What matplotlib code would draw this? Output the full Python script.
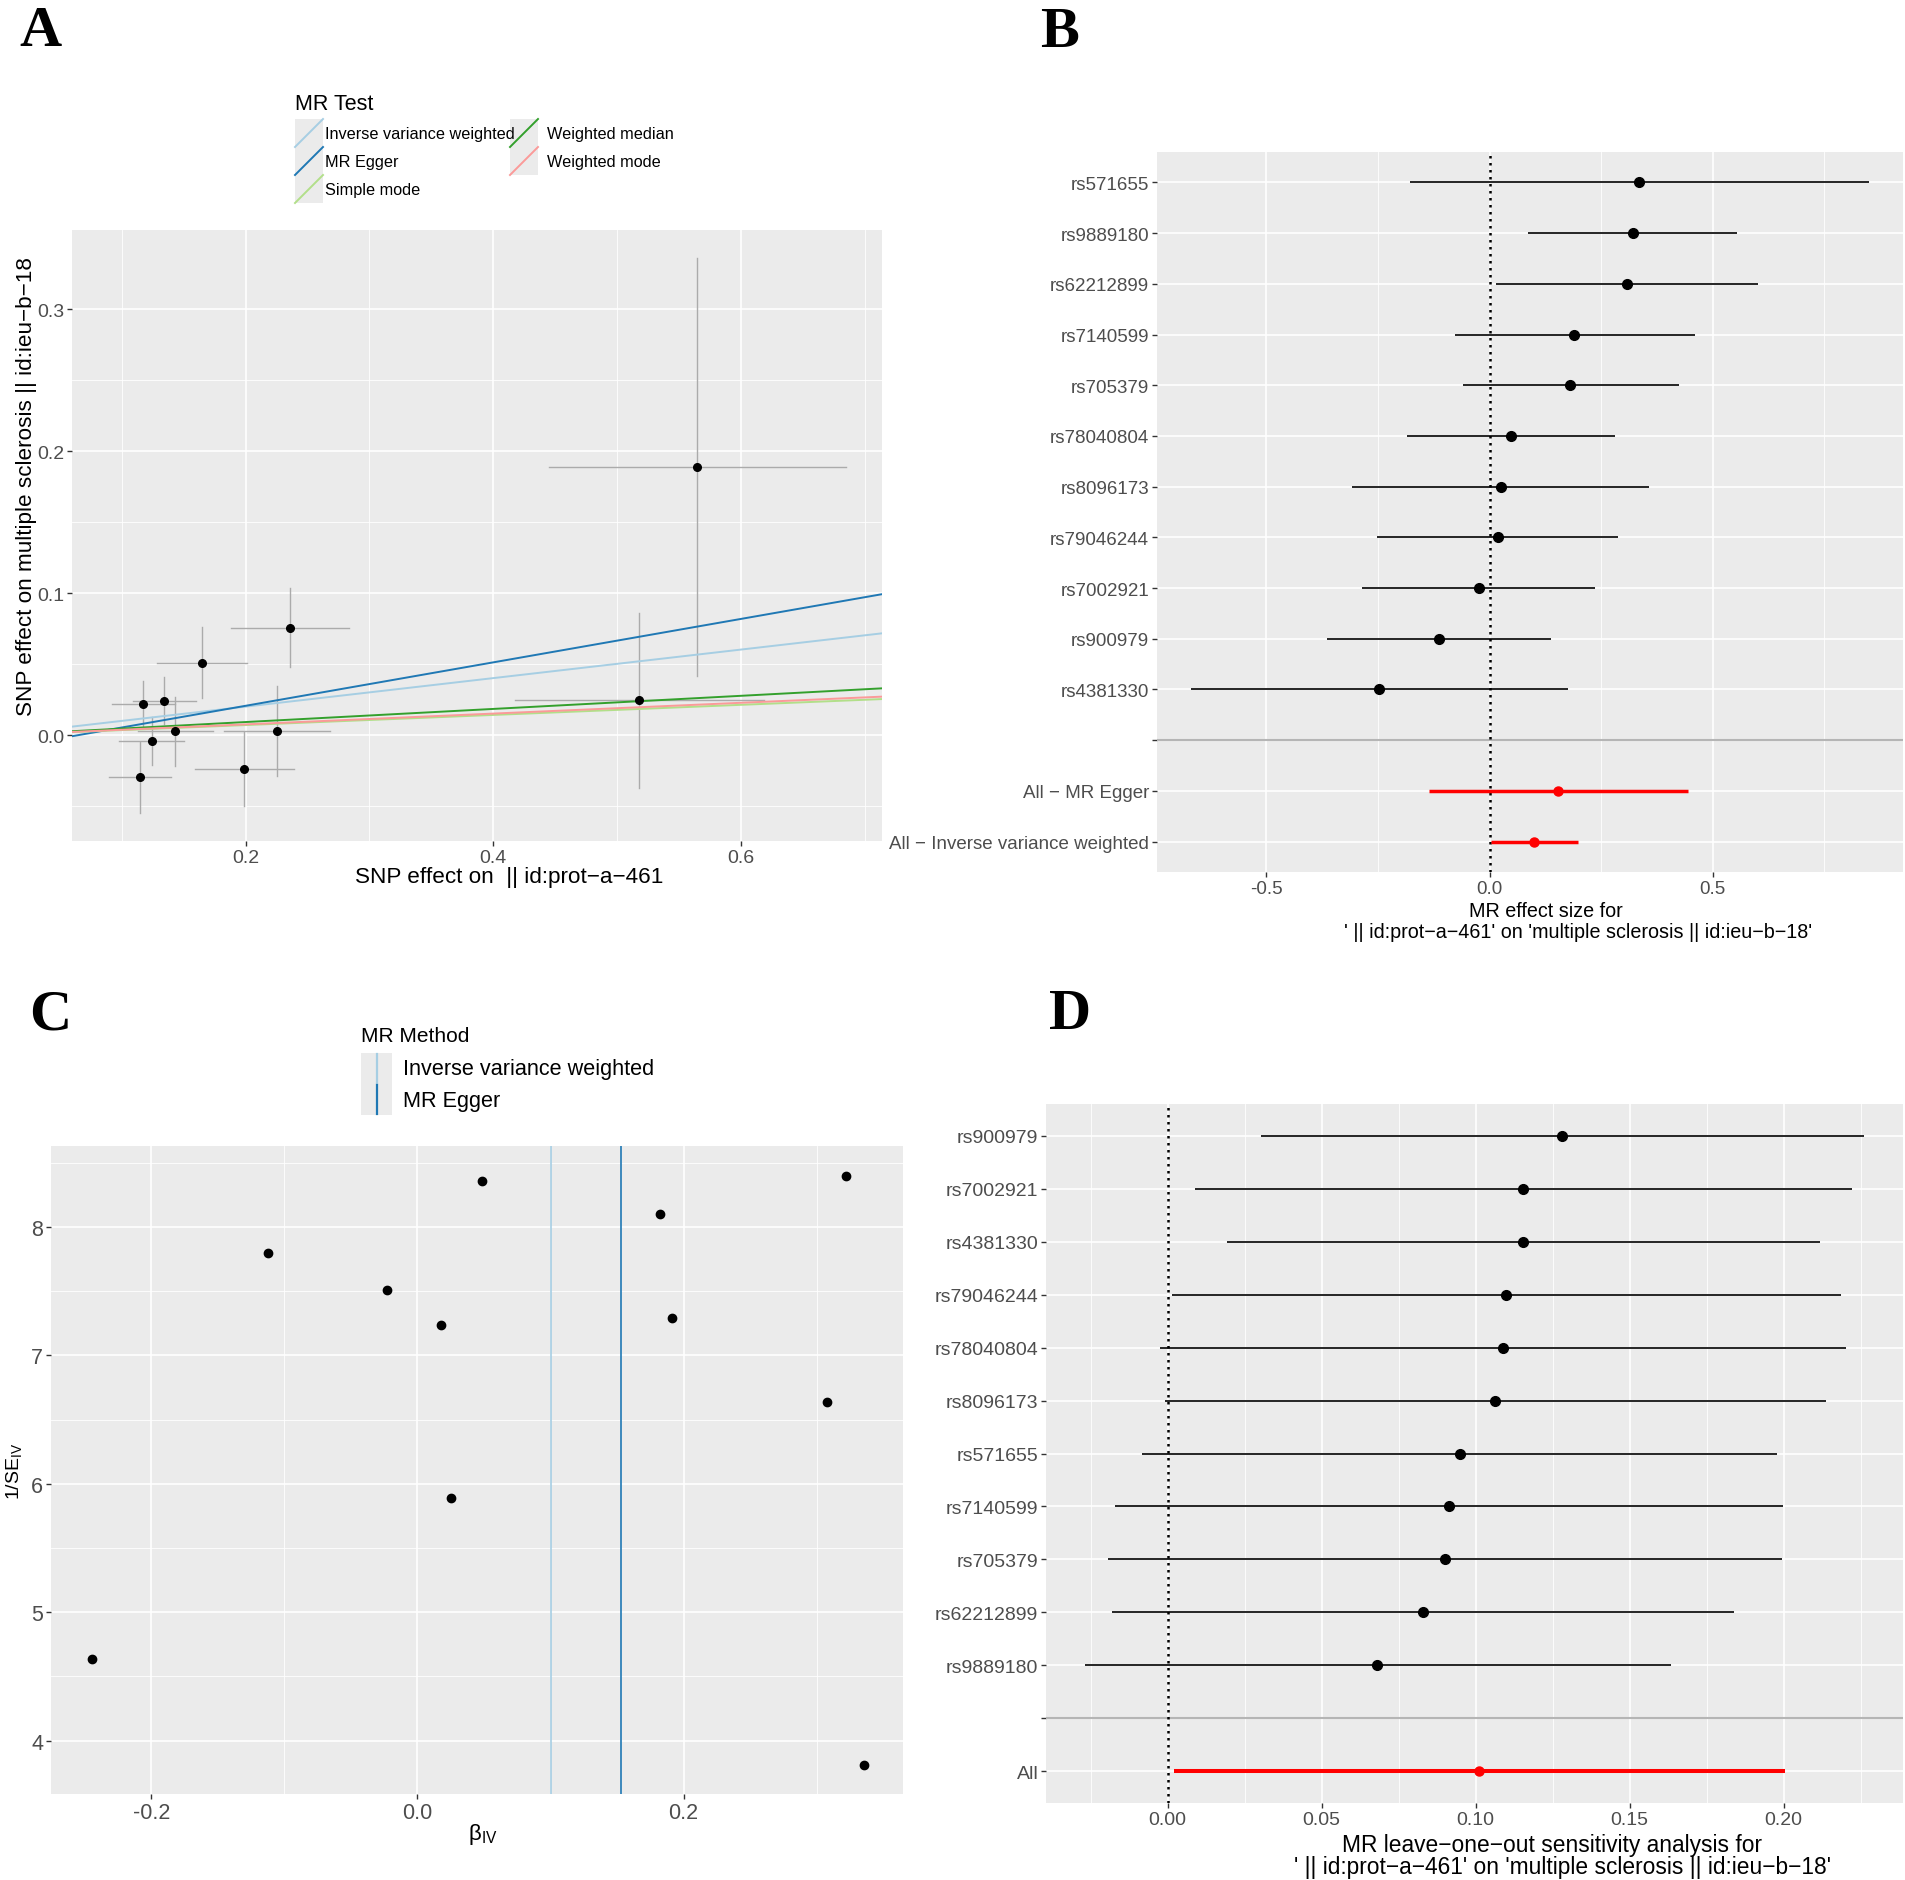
"""Four-panel Mendelian randomisation figure (scatter, single-SNP forest,
funnel and leave-one-out plots), drawn in a ggplot-like grey theme.

Output: out.png
"""
import matplotlib
matplotlib.use("Agg")
import matplotlib.pyplot as plt
from matplotlib.patches import Rectangle
from matplotlib.lines import Line2D
from matplotlib.ticker import FixedLocator, NullLocator, FormatStrFormatter

W, H = 1905, 1881
DPI = 100

plt.rcParams["font.family"] = ["Liberation Sans", "DejaVu Sans"]
plt.rcParams["mathtext.fontset"] = "custom"
plt.rcParams["mathtext.rm"] = "Liberation Sans"
plt.rcParams["mathtext.it"] = "Liberation Sans:italic"
plt.rcParams["mathtext.bf"] = "Liberation Sans:bold"

PANEL = "#EBEBEB"
TICK = "#333333"
TICK_TXT = "#4D4D4D"
HLINE = "#B5B5B5"
RED = "#FF0000"
MINUS = "\u2212"

# ---------------------------------------------------------------- data
# (A) SNP effects on exposure (x) and outcome (y) with error bars
a_x = [0.5645, 0.5178, 0.2356, 0.165, 0.1174, 0.134, 0.1428, 0.1242, 0.1145, 0.1986, 0.2249]
a_xlo = [0.4447, 0.4176, 0.1884, 0.128, 0.092, 0.1088, 0.1128, 0.0979, 0.0892, 0.1587, 0.1822]
a_xhi = [0.685, 0.6186, 0.2831, 0.2014, 0.1425, 0.1595, 0.174, 0.150, 0.1397, 0.2391, 0.268]
a_y = [0.1889, 0.0245, 0.0756, 0.0509, 0.022, 0.0243, 0.003, -0.0041, -0.0298, -0.0236, 0.003]
a_ylo = [0.0414, -0.0372, 0.0479, 0.026, 0.0056, 0.0079, -0.0219, -0.0208, -0.055, -0.0497, -0.0285]
a_yhi = [0.3364, 0.0858, 0.1035, 0.0761, 0.0384, 0.0408, 0.0271, 0.0126, -0.0045, 0.002, 0.0345]

a_methods = ["Inverse variance weighted", "MR Egger", "Simple mode",
             "Weighted median", "Weighted mode"]
a_colors = ["#A6CEE3", "#1F78B4", "#B2DF8A", "#33A02C", "#FB9A99"]
a_intercept = [0.0, -0.0099, 0.0, 0.0, 0.0]
a_slope = [0.1005, 0.153, 0.0356, 0.0462, 0.038]

# (B) single-SNP Wald ratios with 95% CI
b_labels = ["rs571655", "rs9889180", "rs62212899", "rs7140599", "rs705379",
            "rs78040804", "rs8096173", "rs79046244", "rs7002921", "rs900979",
            "rs4381330"]
b_est = [0.335, 0.322, 0.307, 0.189, 0.181, 0.048, 0.0245, 0.018, -0.0245, -0.113, -0.247]
b_lo = [-0.178, 0.087, 0.014, -0.078, -0.059, -0.185, -0.309, -0.252, -0.285, -0.364, -0.669]
b_hi = [0.849, 0.555, 0.602, 0.459, 0.424, 0.282, 0.358, 0.287, 0.237, 0.138, 0.176]
b_all_labels = ["All " + MINUS + " MR Egger", "All " + MINUS + " Inverse variance weighted"]
b_all_est = [0.153, 0.0995]
b_all_lo = [-0.136, 0.003]
b_all_hi = [0.444, 0.199]

# (C) funnel plot
c_beta = [0.336, 0.322, 0.308, 0.191, 0.182, 0.0487, 0.025, 0.018, -0.023, -0.112, -0.245]
c_inv_se = [3.81, 8.40, 6.64, 7.29, 8.10, 8.36, 5.89, 7.24, 7.51, 7.80, 4.636]
c_methods = ["Inverse variance weighted", "MR Egger"]
c_colors = ["#A6CEE3", "#1F78B4"]
c_estimate = [0.1005, 0.153]

# (D) leave-one-out estimates
d_labels = ["rs900979", "rs7002921", "rs4381330", "rs79046244", "rs78040804",
            "rs8096173", "rs571655", "rs7140599", "rs705379", "rs62212899",
            "rs9889180"]
d_est = [0.128, 0.1155, 0.1153, 0.110, 0.1088, 0.1062, 0.0948, 0.0914, 0.090, 0.0829, 0.0681]
d_lo = [0.0302, 0.0089, 0.0194, 0.0014, -0.0024, -0.001, -0.0083, -0.0172, -0.0195, -0.0182, -0.0269]
d_hi = [0.2261, 0.2224, 0.2117, 0.2186, 0.2202, 0.2139, 0.1979, 0.1998, 0.1996, 0.184, 0.1635]
d_all_est = 0.1011
d_all_lo = 0.002
d_all_hi = 0.2004

fig = plt.figure(figsize=(W / DPI, H / DPI), dpi=DPI)


def add_ax(l, t, r, b):
    return fig.add_axes([l / W, 1 - b / H, (r - l) / W, (b - t) / H])


def ftext(x, y, s, **kw):
    fig.text(x / W, 1 - y / H, s, **kw)


def fy(y):
    return 1 - y / H


def gg(ax, fs):
    ax.set_facecolor(PANEL)
    for s in ax.spines.values():
        s.set_visible(False)
    ax.set_axisbelow(True)
    ax.grid(True, which="major", color="white", lw=1.2)
    ax.grid(True, which="minor", color="white", lw=0.6)
    ax.tick_params(which="major", length=3.6, width=1.0, color=TICK,
                   labelcolor=TICK_TXT, labelsize=fs, pad=2)
    ax.tick_params(which="minor", length=0)


def letter(x, y, s):
    ftext(x, y, s, fontsize=42, fontweight="bold", family="Liberation Serif",
          ha="left", va="baseline")


DOTTED = (0, (1, 1.8))

# =====================================================================
# Panel A : scatter plot
# =====================================================================
axA = add_ax(72, 231, 882, 842)
gg(axA, 14)
for x, xl, xh, y, yl, yh in zip(a_x, a_xlo, a_xhi, a_y, a_ylo, a_yhi):
    axA.plot([xl, xh], [y, y], color="#ABABAB", lw=1.0, zorder=2)
    axA.plot([x, x], [yl, yh], color="#ABABAB", lw=1.0, zorder=2)
for a, b, c in zip(a_intercept, a_slope, a_colors):
    axA.axline((0, a), slope=b, color=c, lw=1.4, zorder=3)
axA.plot(a_x, a_y, "o", color="black", ms=5.5, zorder=4)
axA.set_xlim(0.0597, 0.714)
axA.set_ylim(-0.0746, 0.356)
axA.xaxis.set_major_locator(FixedLocator([0.2, 0.4, 0.6]))
axA.xaxis.set_minor_locator(FixedLocator([0.1, 0.3, 0.5, 0.7]))
axA.yaxis.set_major_locator(FixedLocator([0.0, 0.1, 0.2, 0.3]))
axA.yaxis.set_minor_locator(FixedLocator([-0.05, 0.05, 0.15, 0.25]))
axA.xaxis.set_major_formatter(FormatStrFormatter("%.1f"))
axA.yaxis.set_major_formatter(FormatStrFormatter("%.1f"))
ftext(509, 878, "SNP effect on  || id:prot" + MINUS + "a" + MINUS + "461",
      fontsize=16.2, ha="center", va="center")
ftext(27, 487, "SNP effect on multiple sclerosis || id:ieu" + MINUS + "b" + MINUS + "18",
      fontsize=16.2, ha="center", va="center", rotation=90)

# legend A (two columns, filled by column)
ftext(295, 110, "MR Test", fontsize=15.5, ha="left", va="baseline")
key_rows = [120, 148, 176]
key_cols = [(295, 325), (510, 547)]
for i, (name, col) in enumerate(zip(a_methods, a_colors)):
    cx, tx = key_cols[i // 3]
    top = key_rows[i % 3]
    fig.add_artist(Rectangle((cx / W, fy(top + 28)), 28 / W, 28 / H,
                             transform=fig.transFigure, facecolor=PANEL,
                             edgecolor="none"))
    fig.add_artist(Line2D([cx / W, (cx + 28) / W], [fy(top + 28), fy(top)],
                          transform=fig.transFigure, color=col, lw=1.4))
    ftext(tx, top + 14, name, fontsize=11.7, ha="left", va="center")

letter(19, 46, "A")

# =====================================================================
# Panel B : single SNP forest plot
# =====================================================================
axB = add_ax(1157, 153, 1903, 873)
gg(axB, 13.5)
nb = len(b_labels)
b_y = list(range(nb + 3, 3, -1))
b_all_y = [2, 1]
axB.axhline(3, color=HLINE, lw=1.5, zorder=1.5)
axB.axvline(0, color="black", lw=1.8, linestyle=DOTTED, zorder=2)
axB.hlines(b_y, b_lo, b_hi, color="black", lw=1.2, zorder=3)
axB.plot(b_est, b_y, "o", color="black", ms=7, zorder=4)
axB.hlines(b_all_y, b_all_lo, b_all_hi, color=RED, lw=2.5, zorder=3)
axB.plot(b_all_est, b_all_y, "o", color=RED, ms=6.5, zorder=4)
axB.set_xlim(-0.745, 0.926)
axB.set_ylim(0.4, nb + 3.6)
axB.xaxis.set_major_locator(FixedLocator([-0.5, 0.0, 0.5]))
axB.xaxis.set_minor_locator(FixedLocator([-0.25, 0.25, 0.75]))
axB.xaxis.set_major_formatter(FormatStrFormatter("%.1f"))
axB.set_yticks(b_y + [3] + b_all_y, b_labels + [""] + b_all_labels)
axB.yaxis.set_minor_locator(NullLocator())
ftext(1546, 912, "MR effect size for", fontsize=14.2, ha="center", va="center")
ftext(1578, 933, "' || id:prot" + MINUS + "a" + MINUS + "461' on 'multiple sclerosis || id:ieu"
      + MINUS + "b" + MINUS + "18'", fontsize=14.2, ha="center", va="center")
letter(1040, 47, "B")

# =====================================================================
# Panel C : funnel plot
# =====================================================================
axC = add_ax(51, 1147, 903, 1795)
gg(axC, 15.5)
for est, col in zip(c_estimate, c_colors):
    axC.axvline(est, color=col, lw=1.2, zorder=2)
axC.plot(c_beta, c_inv_se, "o", color="black", ms=6, zorder=3)
axC.set_xlim(-0.2755, 0.365)
axC.set_ylim(3.585, 8.63)
axC.xaxis.set_major_locator(FixedLocator([-0.2, 0.0, 0.2]))
axC.xaxis.set_minor_locator(FixedLocator([-0.1, 0.1, 0.3]))
axC.yaxis.set_major_locator(FixedLocator([4, 5, 6, 7, 8]))
axC.yaxis.set_minor_locator(FixedLocator([4.5, 5.5, 6.5, 7.5, 8.5]))
axC.xaxis.set_major_formatter(FormatStrFormatter("%.1f"))
axC.yaxis.set_major_formatter(FormatStrFormatter("%d"))
ftext(483, 1835, r"β$_{\mathrm{IV}}$", fontsize=16, ha="center", va="center")
ftext(14, 1471, r"1/SE$_{\mathrm{IV}}$", fontsize=14, ha="center", va="center",
      rotation=90)

# legend C
ftext(361, 1042, "MR Method", fontsize=15, ha="left", va="baseline")
for i, (name, col) in enumerate(zip(c_methods, c_colors)):
    top = 1054 + i * 31
    fig.add_artist(Rectangle((361 / W, fy(top + 31)), 31 / W, 31 / H,
                             transform=fig.transFigure, facecolor=PANEL,
                             edgecolor="none"))
    fig.add_artist(Line2D([377 / W, 377 / W], [fy(top + 30), fy(top + 1)],
                          transform=fig.transFigure, color=col, lw=1.6))
    ftext(403, top + 16, name, fontsize=15.6, ha="left", va="center")

letter(29, 1029, "C")

# =====================================================================
# Panel D : leave-one-out
# =====================================================================
axD = add_ax(1046, 1105, 1903, 1804)
gg(axD, 14)
nd = len(d_labels)
d_y = list(range(nd + 2, 2, -1))
axD.axhline(2, color=HLINE, lw=1.5, zorder=1.5)
axD.axvline(0, color="black", lw=1.8, linestyle=DOTTED, zorder=2)
axD.hlines(d_y, d_lo, d_hi, color="black", lw=1.2, zorder=3)
axD.plot(d_est, d_y, "o", color="black", ms=7, zorder=4)
axD.hlines([1], [d_all_lo], [d_all_hi], color=RED, lw=2.9, zorder=3)
axD.plot([d_all_est], [1], "o", color=RED, ms=6.5, zorder=4)
axD.set_xlim(-0.0395, 0.2388)
axD.set_ylim(0.4, nd + 2.6)
axD.xaxis.set_major_locator(FixedLocator([0.0, 0.05, 0.10, 0.15, 0.20]))
axD.xaxis.set_minor_locator(FixedLocator([-0.025, 0.025, 0.075, 0.125, 0.175, 0.225]))
axD.xaxis.set_major_formatter(FormatStrFormatter("%.2f"))
axD.set_yticks(d_y + [2, 1], d_labels + ["", "All"])
axD.yaxis.set_minor_locator(NullLocator())
ftext(1552, 1846, "MR leave" + MINUS + "one" + MINUS + "out sensitivity analysis for",
      fontsize=16.4, ha="center", va="center")
ftext(1563, 1868, "' || id:prot" + MINUS + "a" + MINUS + "461' on 'multiple sclerosis || id:ieu"
      + MINUS + "b" + MINUS + "18'", fontsize=16.4, ha="center", va="center")
letter(1049, 1029, "D")

fig.savefig("out.png", dpi=DPI, facecolor="white")
plt.close(fig)
